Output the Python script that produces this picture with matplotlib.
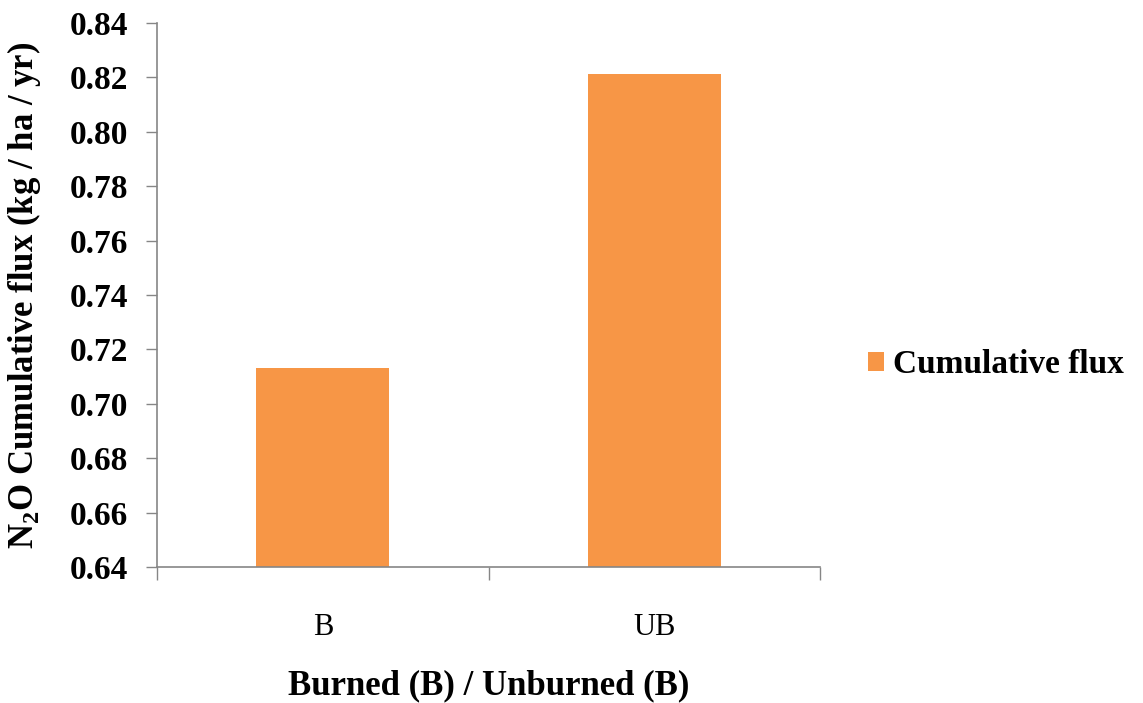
import matplotlib.pyplot as plt
import numpy as np

# Cumulative N2O flux for burned / unburned plots
categories = ["B", "UB"]
cum_flux = [0.7132, 0.8213]
series_name = "Cumulative flux"
y_ticks = [0.64, 0.66, 0.68, 0.70, 0.72, 0.74, 0.76, 0.78, 0.80, 0.82, 0.84]

plt.rcParams["font.family"] = ["Liberation Serif", "DejaVu Serif"]
plt.rcParams["mathtext.fontset"] = "custom"
plt.rcParams["mathtext.rm"] = "Liberation Serif:bold"
plt.rcParams["mathtext.bf"] = "Liberation Serif:bold"

ORANGE = "#F79646"
GRAY = "#868686"

fig = plt.figure(figsize=(11.43, 7.03), dpi=100)
ax = fig.add_axes([0.1374, 0.1935, 0.58, 0.7738])

x = np.arange(len(categories))
ax.bar(x, cum_flux, width=0.40, color=ORANGE, label=series_name, zorder=2)

ax.set_ylim(0.64, 0.84)
ax.set_xlim(-0.5, len(categories) - 0.5)
ax.set_yticks(y_ticks)
ax.set_yticklabels([f"{v:.2f}" for v in y_ticks], fontsize=24, fontweight="bold")

# category boundaries get the tick marks, labels sit on the centres
ax.set_xticks(np.arange(-0.5, len(categories)), labels=[])
ax.set_xticks(x, labels=categories, minor=True)
ax.tick_params(axis="x", which="major", length=9, width=1, color=GRAY, direction="out")
ax.tick_params(axis="x", which="minor", length=0, pad=33, labelsize=22)
ax.tick_params(axis="y", length=8, width=1, color=GRAY, direction="out", pad=13)

for side in ["top", "right"]:
    ax.spines[side].set_visible(False)
for side in ["left", "bottom"]:
    ax.spines[side].set_color(GRAY)
    ax.spines[side].set_linewidth(1.2)

ax.set_xlabel("Burned (B) / Unburned (B)", fontsize=25, fontweight="bold", labelpad=20)
ax.set_ylabel(r"N$_\mathrm{2}$O Cumulative flux (kg / ha / yr)", fontsize=25,
              fontweight="bold")
ax.yaxis.set_label_coords(-0.172, 0.5)

fig.legend(loc="center left", bbox_to_anchor=(0.7594, 0.481), frameon=False,
           prop={"size": 24, "weight": "bold"}, handlelength=0.48, handleheight=0.48,
           handletextpad=0.28, borderaxespad=0, borderpad=0)

fig.savefig("out.png", dpi=100)
